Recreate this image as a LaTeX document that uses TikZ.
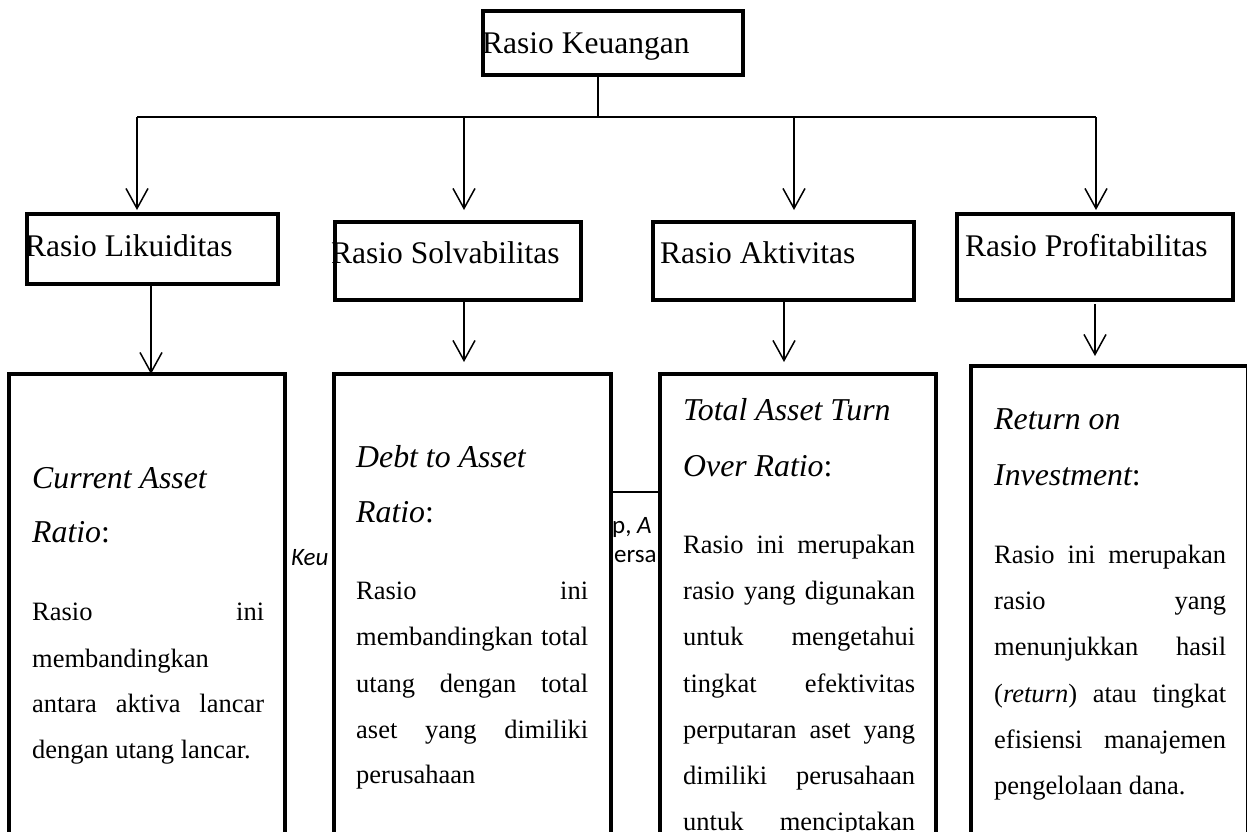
\documentclass[tikz,border=0pt]{standalone}
\usepackage{fontspec}
\setmainfont{Liberation Serif}
\newfontfamily\fragfont{Carlito}
\usetikzlibrary{arrows.meta}
\begin{document}
\begin{tikzpicture}[x=1pt,y=-1pt,
  border/.style={line width=4.5pt},
  conn/.style={line width=1.5pt},
  arr/.style={conn,-{Straight Barb[length=20pt,width=22pt,line width=1.5pt]}},
  boxfill/.style={fill=white,draw=none,inner sep=0pt,outer sep=0pt},
  lbl/.style={anchor=base west,inner sep=0pt,font=\fontsize{31.5}{36}\selectfont},
  ttl/.style={anchor=base west,inner sep=0pt,font=\fontsize{31.8}{36}\selectfont\itshape},
  body/.style={anchor=base west,inner sep=0pt,font=\fontsize{26.5}{30}\selectfont},
  frag/.style={anchor=base west,inner sep=0pt,font=\fragfont\fontsize{25}{28}\selectfont}
]
\useasboundingbox (0,0) rectangle (1247,831);
\newcommand{\jl}[1]{\makebox[232pt][s]{#1}}

% background fragments
\coordinate (fl) at (611,492);
\coordinate (fr) at (660,492);
\draw[conn] (fl) -- (fr);
\node[frag] (fk) at (291,565) {\itshape Keu};
\node[frag] (fp) at (612,533) {p, \textit{A}};
\node[frag] (fe) at (614,562) {ersa};

% box fills
\node[boxfill,minimum width=260pt,minimum height=64pt] (keu) at (613,43) {};
\node[boxfill,minimum width=251pt,minimum height=70pt] (lik) at (152.5,249) {};
\node[boxfill,minimum width=246pt,minimum height=78pt] (sol) at (458,261) {};
\node[boxfill,minimum width=261pt,minimum height=78pt] (akt) at (783.5,261) {};
\node[boxfill,minimum width=276pt,minimum height=86pt] (pro) at (1095,257) {};
\node[boxfill,minimum width=276pt,minimum height=486pt] (b1) at (147,617) {};
\node[boxfill,minimum width=277pt,minimum height=486pt] (b2) at (472.5,617) {};
\node[boxfill,minimum width=276pt,minimum height=486pt] (b3) at (798,617) {};
\node[boxfill,minimum width=277.5pt,minimum height=494pt] (b4) at (1109.75,613) {};

% level 1 and 2 labels
\node[lbl] (tkeu) at (482,53) {Rasio Keuangan};
\node[lbl] (tlik) at (25,256) {Rasio Likuiditas};
\node[lbl] (tsol) at (331,263) {Rasio Solvabilitas};
\node[lbl] (takt) at (660,263) {Rasio Aktivitas};
\node[lbl] (tpro) at (965,256) {Rasio Profitabilitas};

% box 1 text
\node[ttl] (c1a) at (32,488) {Current Asset};
\node[ttl] (c1b) at (32,542) {Ratio\upshape:};
\node[body] (c1c) at (32,620) {\jl{Rasio ini}};
\node[body] (c1d) at (32,667) {membandingkan};
\node[body] (c1e) at (32,712) {\jl{antara aktiva lancar}};
\node[body] (c1f) at (32,758) {dengan utang lancar.};

% box 2 text
\node[ttl] (c2a) at (356,467) {Debt to Asset};
\node[ttl] (c2b) at (356,522) {Ratio\upshape:};
\node[body] (c2c) at (356,599) {\jl{Rasio ini}};
\node[body] (c2d) at (356,645) {\jl{membandingkan total}};
\node[body] (c2e) at (356,692) {\jl{utang dengan total}};
\node[body] (c2f) at (356,738) {\jl{aset yang dimiliki}};
\node[body] (c2g) at (356,783) {perusahaan};

% box 3 text
\node[ttl] (c3a) at (683,420) {Total Asset Turn};
\node[ttl] (c3b) at (683,476) {Over Ratio\upshape:};
\node[body] (c3c) at (683,553) {\jl{Rasio ini merupakan}};
\node[body] (c3d) at (683,599) {\jl{rasio yang digunakan}};
\node[body] (c3e) at (683,645) {\jl{untuk mengetahui}};
\node[body] (c3f) at (683,692) {\jl{tingkat efektivitas}};
\node[body] (c3g) at (683,738) {\jl{perputaran aset yang}};
\node[body] (c3h) at (683,784) {\jl{dimiliki perusahaan}};
\node[body] (c3i) at (683,830) {\jl{untuk menciptakan}};

% box 4 text
\node[ttl] (c4a) at (994,429) {Return on};
\node[ttl] (c4b) at (994,485) {Investment\upshape:};
\node[body] (c4c) at (994,563) {\jl{Rasio ini merupakan}};
\node[body] (c4d) at (994,609) {\jl{rasio yang}};
\node[body] (c4e) at (994,655) {\jl{menunjukkan hasil}};
\node[body] (c4f) at (994,702) {\jl{(\textit{return}) atau tingkat}};
\node[body] (c4g) at (994,748) {\jl{efisiensi manajemen}};
\node[body] (c4h) at (994,794) {pengelolaan dana.};

% borders
\foreach \b in {keu,lik,sol,akt,pro,b1,b2,b3,b4}
  \draw[border] (\b.north west) rectangle (\b.south east);

% connectors
\coordinate (j0) at (598,117);
\coordinate (h1) at (137,117);
\coordinate (h2) at (464,117);
\coordinate (h3) at (794,117);
\coordinate (h4) at (1096,117);
\coordinate (t1) at (137,210);
\coordinate (t2) at (464,210);
\coordinate (t3) at (794,210);
\coordinate (t4) at (1096,210);
\draw[conn] (j0 |- keu.south) -- (j0);
\draw[conn] (h1) -- (h4);
\draw[arr] (h1) -- (t1);
\draw[arr] (h2) -- (t2);
\draw[arr] (h3) -- (t3);
\draw[arr] (h4) -- (t4);

\coordinate (s1) at (151,374);
\coordinate (s2) at (464,362);
\coordinate (s3) at (784,362);
\coordinate (s4) at (1095,356);
\draw[arr] (s1 |- lik.south) -- (s1);
\draw[arr] (s2 |- sol.south) ++(0,2) -- (s2);
\draw[arr] (s3 |- akt.south) -- (s3);
\draw[arr] (s4 |- pro.south) ++(0,4) -- (s4);
\end{tikzpicture}
\end{document}
